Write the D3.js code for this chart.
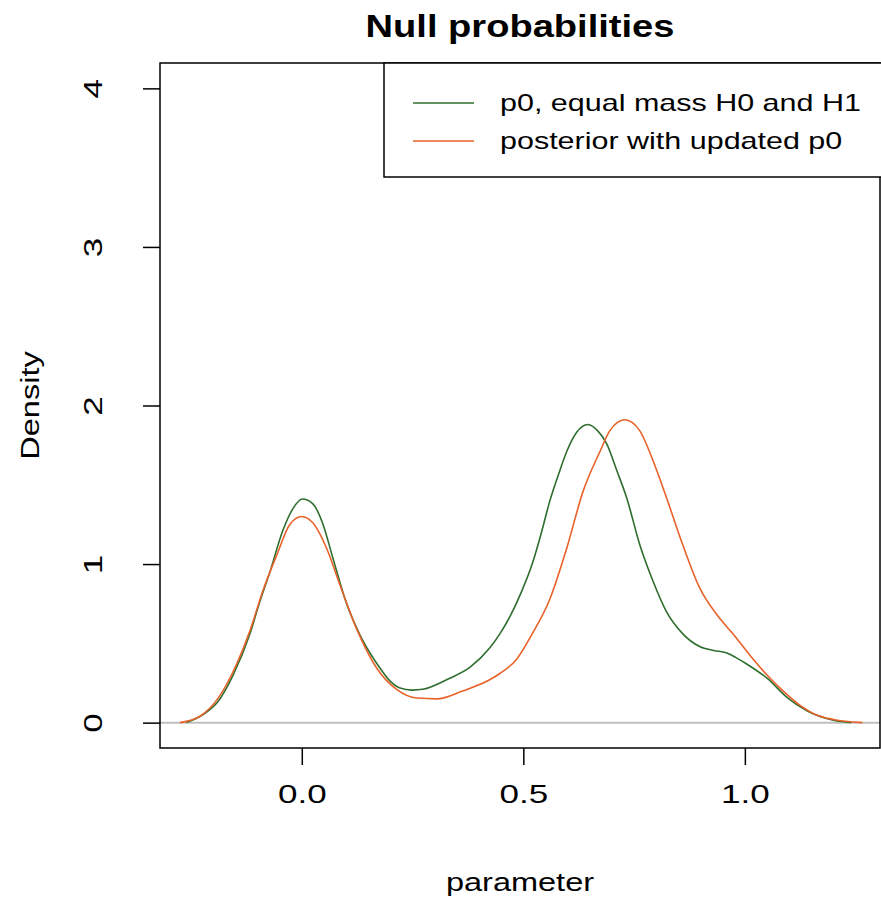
<!DOCTYPE html>
<html>
<head>
<meta charset="utf-8">
<script src="https://cdn.jsdelivr.net/npm/d3@7"></script>
<style>
  body { margin: 0; background: #fff; }
  text { font-family: "Liberation Sans", Arial, sans-serif; }
</style>
</head>
<body>
<script>
const width = 881
const height = 903
const margin = ({top: 63, right: 1, bottom: 155, left: 160})

// series
const seriesNames = ["p0, equal mass H0 and H1", "posterior with updated p0"]
const greenX = [-0.26, -0.223, -0.19, -0.155, -0.117, -0.095, -0.072, -0.043, -0.02, 0.002, 0.025, 0.048, 0.07, 0.1, 0.13, 0.17, 0.2, 0.22, 0.25, 0.273, 0.334, 0.38, 0.424, 0.447, 0.47, 0.495, 0.52, 0.54, 0.56, 0.58, 0.598, 0.62, 0.646, 0.668, 0.688, 0.711, 0.733, 0.763, 0.793, 0.823, 0.86, 0.898, 0.93, 0.958, 0.98, 1.004, 1.05, 1.095, 1.14, 1.2, 1.24]
const greenY = [0, 0.05, 0.13, 0.30, 0.56, 0.76, 0.95, 1.21, 1.35, 1.41, 1.38, 1.25, 1.04, 0.76, 0.56, 0.37, 0.26, 0.22, 0.205, 0.21, 0.28, 0.35, 0.47, 0.56, 0.67, 0.82, 1.0, 1.19, 1.40, 1.57, 1.71, 1.83, 1.88, 1.84, 1.76, 1.59, 1.42, 1.12, 0.89, 0.70, 0.56, 0.48, 0.455, 0.44, 0.41, 0.37, 0.28, 0.16, 0.075, 0.015, 0]
const orangeX = [-0.275, -0.23, -0.19, -0.147, -0.117, -0.088, -0.056, -0.027, 0.0, 0.025, 0.056, 0.086, 0.124, 0.17, 0.214, 0.26, 0.305, 0.363, 0.424, 0.447, 0.485, 0.52, 0.56, 0.598, 0.635, 0.673, 0.695, 0.729, 0.763, 0.793, 0.823, 0.86, 0.898, 0.937, 0.973, 1.01, 1.05, 1.086, 1.124, 1.16, 1.2, 1.265]
const orangeY = [0, 0.04, 0.15, 0.37, 0.58, 0.83, 1.06, 1.25, 1.30, 1.26, 1.10, 0.87, 0.59, 0.34, 0.21, 0.155, 0.15, 0.20, 0.27, 0.31, 0.40, 0.56, 0.78, 1.10, 1.46, 1.71, 1.84, 1.91, 1.84, 1.65, 1.42, 1.12, 0.85, 0.68, 0.56, 0.43, 0.30, 0.20, 0.11, 0.05, 0.02, 0]
const xTicks = [0, 0.5, 1]
const yTicks = [0, 1, 2, 3, 4]
const colors = ["#2f6e2f", "#e8622a"]

// the reference text is rendered wider than Liberation Sans; stretch it
const stretch = 1.3

const x = d3.scaleLinear()
    .domain([-0.32, 1.305])
    .range([margin.left, width - margin.right])

const y = d3.scaleLinear()
    .domain([-0.16, 4.16])
    .range([height - margin.bottom, margin.top])

const svg = d3.select("body").append("svg")
    .attr("width", width)
    .attr("height", height)

function widen(sel, k) {
  sel.each(function() {
    const w = this.getComputedTextLength()
    d3.select(this).attr("textLength", w * k).attr("lengthAdjust", "spacingAndGlyphs")
  })
}

// title
svg.append("text")
    .attr("x", (x.range()[0] + x.range()[1]) / 2)
    .attr("y", 37)
    .attr("text-anchor", "middle")
    .attr("font-size", 32)
    .attr("font-weight", "bold")
    .text("Null probabilities")
    .call(widen, 1.19)

// zero line
svg.append("line")
    .attr("x1", x.range()[0]).attr("x2", x.range()[1])
    .attr("y1", y(0)).attr("y2", y(0))
    .attr("stroke", "#c0c0c0")
    .attr("stroke-width", 2)

// density curves
const line = d3.line()
    .x(d => x(d[0]))
    .y(d => y(d[1]))
    .curve(d3.curveMonotoneX)

const series = [d3.zip(greenX, greenY), d3.zip(orangeX, orangeY)]
svg.append("g")
    .selectAll("path")
    .data(series)
    .join("path")
        .attr("fill", "none")
        .attr("stroke", (d, i) => colors[i])
        .attr("stroke-width", 1.6)
        .attr("d", line)

// box
svg.append("rect")
    .attr("x", x.range()[0]).attr("y", y.range()[1])
    .attr("width", x.range()[1] - x.range()[0])
    .attr("height", y.range()[0] - y.range()[1])
    .attr("fill", "none")
    .attr("stroke", "#000")
    .attr("stroke-width", 1.5)

// axes
const xAxis = g => g
    .attr("transform", `translate(0,${y.range()[0]})`)
    .call(d3.axisBottom(x).tickValues(xTicks).tickFormat(d3.format(".1f")).tickSize(17).tickPadding(20))
    .call(g => g.select(".domain").remove())

const yAxis = g => g
    .attr("transform", `translate(${x.range()[0]},0)`)
    .call(d3.axisLeft(y).tickValues(yTicks).tickFormat(d3.format("d")).tickSize(17))
    .call(g => g.select(".domain").remove())

svg.append("g").call(xAxis)
  .call(g => g.selectAll("line").attr("stroke-width", 1.5))
  .call(g => g.selectAll("text").attr("font-size", 25).attr("fill", "#000")
      .attr("font-family", "'Liberation Sans', Arial, sans-serif").call(widen, 1.4))

svg.append("g").call(yAxis)
  .call(g => g.selectAll("line").attr("stroke-width", 1.5))
  .call(g => g.selectAll("text")
      .attr("font-size", 25).attr("fill", "#000")
      .attr("font-family", "'Liberation Sans', Arial, sans-serif")
      .attr("text-anchor", "middle").attr("dy", null)
      .attr("x", 0).attr("y", 0)
      .attr("transform", "translate(-58,0) rotate(-90)")
      .call(widen, 1.4))

// axis labels
svg.append("text")
    .attr("x", (x.range()[0] + x.range()[1]) / 2)
    .attr("y", 891)
    .attr("text-anchor", "middle")
    .attr("font-size", 25)
    .text("parameter")
    .call(widen, stretch)

svg.append("text")
    .attr("transform", `translate(39,${(y.range()[0] + y.range()[1]) / 2}) rotate(-90)`)
    .attr("text-anchor", "middle")
    .attr("font-size", 25)
    .text("Density")
    .call(widen, stretch)

// legend
const legend = svg.append("g")
legend.append("rect")
    .attr("x", 384).attr("y", y.range()[1])
    .attr("width", 520).attr("height", 114)
    .attr("fill", "#fff")
    .attr("stroke", "#000")
    .attr("stroke-width", 1.5)

const items = legend.selectAll("g.item")
    .data(seriesNames)
    .join("g")
        .attr("transform", (d, i) => `translate(0,${103 + i * 38})`)
items.append("line")
    .attr("x1", 413).attr("x2", 474)
    .attr("stroke", (d, i) => colors[i])
    .attr("stroke-width", 1.6)
items.append("text")
    .attr("x", 500)
    .attr("dy", "0.35em")
    .attr("font-size", 24)
    .text(d => d)
    .call(widen, 1.27)
</script>
</body>
</html>
